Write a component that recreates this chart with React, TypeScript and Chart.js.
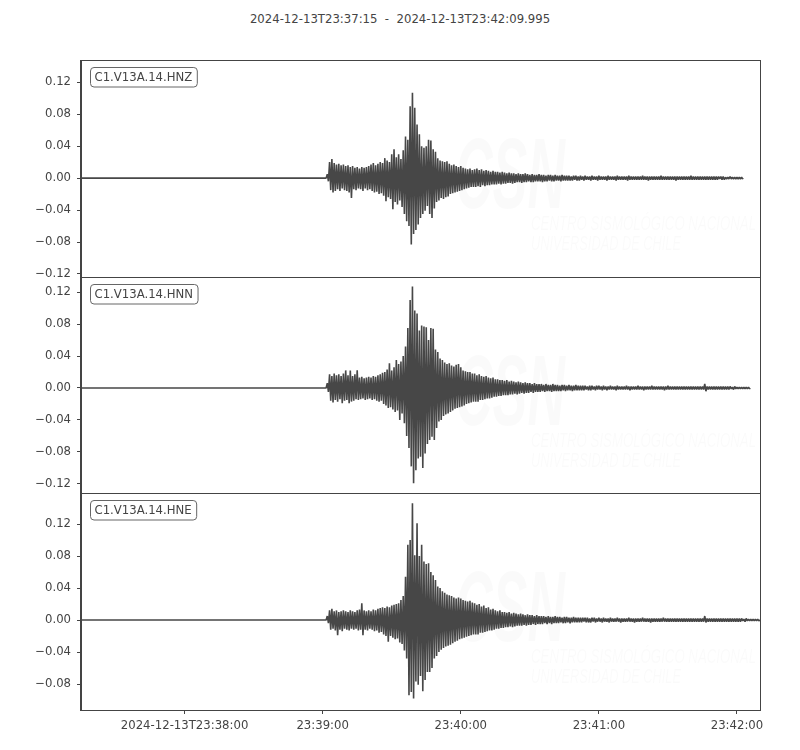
import { useEffect, useRef } from 'react'
import { Chart, registerables } from 'chart.js'

Chart.register(...registerables)

Chart.defaults.font.family = '"DejaVu Sans", sans-serif'
Chart.defaults.font.size = 11.7
Chart.defaults.color = '#444'

const titleText = '2024-12-13T23:37:15  -  2024-12-13T23:42:09.995'
const channels = ['C1.V13A.14.HNZ', 'C1.V13A.14.HNN', 'C1.V13A.14.HNE']

// x axis is seconds after 23:37:15
const xTickSeconds = [45, 105, 165, 225, 285]
const xTickLabels = ['2024-12-13T23:38:00', '23:39:00', '23:40:00', '23:41:00', '23:42:00']

const yTicksZ = [-0.12, -0.08, -0.04, 0, 0.04, 0.08, 0.12]
const yTicksN = [-0.12, -0.08, -0.04, 0, 0.04, 0.08, 0.12]
const yTicksE = [-0.08, -0.04, 0, 0.04, 0.08, 0.12]

// trace timing (s): peak/trough pairs every second from the onset on
const onset = 107
const codaStart = 171
const traceEnds = [287.5, 290.7, 295]

// HNZ, 107 s .. 170 s
const hnzUp = [
  0.005, 0.020, 0.024, 0.019, 0.017, 0.018, 0.016, 0.017, 0.015, 0.016,
  0.014, 0.015, 0.013, 0.014, 0.012, 0.014, 0.013, 0.014, 0.015, 0.017,
  0.019, 0.016, 0.018, 0.020, 0.019, 0.025, 0.022, 0.020, 0.030, 0.036,
  0.026, 0.030, 0.024, 0.035, 0.052, 0.048, 0.090, 0.107, 0.088, 0.067,
  0.055, 0.040, 0.038, 0.040, 0.048, 0.047, 0.036, 0.033, 0.025, 0.022,
  0.021, 0.020, 0.021, 0.018, 0.016, 0.017, 0.015, 0.014, 0.015, 0.013,
  0.012, 0.011, 0.012, 0.010,
]
const hnzDown = [
  -0.004, -0.015, -0.018, -0.016, -0.014, -0.016, -0.013, -0.015, -0.016, -0.018,
  -0.025, -0.014, -0.015, -0.013, -0.014, -0.016, -0.013, -0.015, -0.014, -0.016,
  -0.018, -0.017, -0.020, -0.019, -0.022, -0.029, -0.024, -0.026, -0.039, -0.030,
  -0.033, -0.028, -0.036, -0.045, -0.054, -0.060, -0.083, -0.070, -0.065, -0.058,
  -0.050, -0.045, -0.041, -0.035, -0.045, -0.050, -0.038, -0.030, -0.028, -0.025,
  -0.026, -0.024, -0.023, -0.020, -0.019, -0.018, -0.017, -0.016, -0.015, -0.014,
  -0.013, -0.012, -0.011, -0.011,
]
// HNZ coda, 171 s .. 287 s
const hnzCodaUp = [
  0.011, 0.012, 0.010, 0.011, 0.009, 0.010, 0.009, 0.008, 0.009, 0.008,
  0.008, 0.007, 0.008, 0.007, 0.006, 0.007, 0.006, 0.006, 0.005, 0.006,
  0.005, 0.005, 0.006, 0.005, 0.004, 0.005, 0.004, 0.004, 0.005, 0.004,
  0.004, 0.003, 0.004, 0.004, 0.003, 0.004, 0.003, 0.003, 0.004, 0.003,
  0.003, 0.003, 0.002, 0.003, 0.003, 0.002, 0.003, 0.002, 0.003, 0.002,
  0.002, 0.003, 0.002, 0.002, 0.003, 0.002, 0.002, 0.002, 0.003, 0.002,
  0.002, 0.002, 0.003, 0.002, 0.002, 0.002, 0.002, 0.003, 0.002, 0.002,
  0.002, 0.002, 0.002, 0.003, 0.002, 0.002, 0.002, 0.002, 0.002, 0.002,
  0.002, 0.003, 0.002, 0.002, 0.002, 0.002, 0.002, 0.002, 0.002, 0.002,
  0.002, 0.002, 0.002, 0.002, 0.003, 0.002, 0.002, 0.002, 0.002, 0.002,
  0.002, 0.002, 0.002, 0.002, 0.002, 0.002, 0.002, 0.002, 0.002, 0.001,
  0.001, 0.002, 0.001, 0.001, 0.001, 0.001, 0.001,
]
const hnzCodaDown = [
  -0.011, -0.010, -0.011, -0.009, -0.010, -0.009, -0.009, -0.008, -0.008, -0.008,
  -0.007, -0.008, -0.007, -0.007, -0.006, -0.006, -0.007, -0.006, -0.005, -0.005,
  -0.006, -0.005, -0.005, -0.004, -0.005, -0.005, -0.004, -0.004, -0.004, -0.005,
  -0.004, -0.004, -0.003, -0.004, -0.004, -0.003, -0.003, -0.004, -0.003, -0.003,
  -0.003, -0.003, -0.003, -0.002, -0.003, -0.003, -0.002, -0.003, -0.002, -0.002,
  -0.003, -0.002, -0.002, -0.003, -0.002, -0.002, -0.002, -0.003, -0.002, -0.002,
  -0.002, -0.003, -0.002, -0.002, -0.002, -0.002, -0.003, -0.002, -0.002, -0.002,
  -0.002, -0.002, -0.002, -0.002, -0.002, -0.003, -0.002, -0.002, -0.002, -0.002,
  -0.002, -0.002, -0.002, -0.002, -0.002, -0.002, -0.002, -0.003, -0.002, -0.002,
  -0.002, -0.002, -0.002, -0.002, -0.002, -0.002, -0.002, -0.002, -0.002, -0.002,
  -0.002, -0.002, -0.002, -0.002, -0.002, -0.002, -0.001, -0.002, -0.002, -0.001,
  -0.001, -0.001, -0.001, -0.001, -0.001, -0.001, -0.001,
]

// HNN, 107 s .. 170 s
const hnnUp = [
  0.006, 0.017, 0.015, 0.018, 0.016, 0.017, 0.015, 0.018, 0.022, 0.016,
  0.022, 0.015, 0.017, 0.022, 0.013, 0.014, 0.012, 0.013, 0.014, 0.013,
  0.015, 0.014, 0.016, 0.017, 0.019, 0.020, 0.023, 0.031, 0.022, 0.026,
  0.035, 0.030, 0.033, 0.040, 0.052, 0.075, 0.110, 0.127, 0.097, 0.093,
  0.072, 0.078, 0.077, 0.076, 0.060, 0.075, 0.074, 0.048, 0.045, 0.037,
  0.035, 0.032, 0.030, 0.031, 0.028, 0.027, 0.029, 0.030, 0.026, 0.022,
  0.021, 0.020, 0.020, 0.018,
]
const hnnDown = [
  -0.005, -0.016, -0.018, -0.015, -0.017, -0.014, -0.019, -0.016, -0.015, -0.019,
  -0.017, -0.016, -0.014, -0.015, -0.014, -0.013, -0.015, -0.014, -0.013, -0.015,
  -0.014, -0.016, -0.017, -0.016, -0.020, -0.022, -0.025, -0.024, -0.027, -0.030,
  -0.028, -0.040, -0.032, -0.044, -0.060, -0.075, -0.098, -0.119, -0.103, -0.088,
  -0.086, -0.100, -0.082, -0.070, -0.065, -0.061, -0.065, -0.050, -0.042, -0.040,
  -0.035, -0.033, -0.032, -0.030, -0.028, -0.026, -0.025, -0.024, -0.023, -0.022,
  -0.020, -0.019, -0.018, -0.017,
]
// HNN coda, 171 s .. 290 s
const hnnCodaUp = [
  0.018, 0.016, 0.017, 0.015, 0.014, 0.015, 0.013, 0.012, 0.013, 0.011,
  0.011, 0.010, 0.010, 0.009, 0.010, 0.008, 0.009, 0.008, 0.007, 0.008,
  0.007, 0.006, 0.007, 0.006, 0.006, 0.005, 0.006, 0.005, 0.005, 0.005,
  0.004, 0.005, 0.004, 0.004, 0.005, 0.004, 0.004, 0.003, 0.004, 0.004,
  0.003, 0.004, 0.003, 0.003, 0.004, 0.003, 0.003, 0.003, 0.003, 0.002,
  0.003, 0.003, 0.002, 0.003, 0.003, 0.002, 0.003, 0.002, 0.002, 0.003,
  0.002, 0.002, 0.003, 0.002, 0.002, 0.002, 0.003, 0.002, 0.002, 0.002,
  0.002, 0.003, 0.002, 0.002, 0.002, 0.002, 0.002, 0.003, 0.002, 0.002,
  0.002, 0.002, 0.002, 0.002, 0.003, 0.002, 0.002, 0.002, 0.002, 0.002,
  0.002, 0.002, 0.002, 0.002, 0.002, 0.002, 0.002, 0.002, 0.002, 0.002,
  0.005, 0.002, 0.002, 0.002, 0.002, 0.002, 0.002, 0.002, 0.002, 0.002,
  0.002, 0.002, 0.001, 0.002, 0.001, 0.001, 0.001, 0.001, 0.001, 0.001,
]
const hnnCodaDown = [
  -0.017, -0.017, -0.015, -0.015, -0.014, -0.013, -0.013, -0.012, -0.011, -0.011,
  -0.010, -0.010, -0.009, -0.009, -0.009, -0.008, -0.008, -0.007, -0.008, -0.007,
  -0.006, -0.007, -0.006, -0.006, -0.005, -0.006, -0.005, -0.005, -0.005, -0.004,
  -0.005, -0.004, -0.004, -0.005, -0.004, -0.004, -0.004, -0.004, -0.003, -0.004,
  -0.003, -0.003, -0.004, -0.003, -0.003, -0.003, -0.003, -0.003, -0.002, -0.003,
  -0.003, -0.002, -0.003, -0.002, -0.002, -0.003, -0.002, -0.003, -0.002, -0.002,
  -0.002, -0.003, -0.002, -0.002, -0.002, -0.002, -0.002, -0.003, -0.002, -0.002,
  -0.002, -0.002, -0.002, -0.003, -0.002, -0.002, -0.002, -0.002, -0.002, -0.002,
  -0.002, -0.002, -0.003, -0.002, -0.002, -0.002, -0.002, -0.002, -0.002, -0.002,
  -0.002, -0.002, -0.002, -0.002, -0.002, -0.002, -0.002, -0.002, -0.002, -0.002,
  -0.004, -0.002, -0.002, -0.002, -0.002, -0.002, -0.002, -0.002, -0.002, -0.002,
  -0.002, -0.001, -0.002, -0.001, -0.001, -0.001, -0.001, -0.001, -0.001, -0.001,
]

// HNE, 107 s .. 170 s
const hneUp = [
  0.005, 0.012, 0.014, 0.011, 0.012, 0.010, 0.011, 0.012, 0.011, 0.010,
  0.012, 0.011, 0.010, 0.012, 0.013, 0.021, 0.012, 0.011, 0.012, 0.011,
  0.013, 0.012, 0.014, 0.015, 0.016, 0.015, 0.017, 0.016, 0.018, 0.019,
  0.020, 0.021, 0.025, 0.030, 0.054, 0.094, 0.100, 0.146, 0.081, 0.121,
  0.080, 0.094, 0.073, 0.070, 0.071, 0.060, 0.056, 0.050, 0.042, 0.040,
  0.036, 0.034, 0.032, 0.031, 0.030, 0.028, 0.027, 0.028, 0.027, 0.025,
  0.024, 0.023, 0.024, 0.022,
]
const hneDown = [
  -0.004, -0.012, -0.011, -0.013, -0.019, -0.012, -0.014, -0.011, -0.012, -0.013,
  -0.011, -0.012, -0.011, -0.013, -0.012, -0.019, -0.012, -0.013, -0.011, -0.012,
  -0.014, -0.013, -0.016, -0.015, -0.018, -0.020, -0.027, -0.020, -0.022, -0.024,
  -0.023, -0.028, -0.030, -0.038, -0.048, -0.094, -0.090, -0.098, -0.077, -0.081,
  -0.070, -0.089, -0.075, -0.065, -0.065, -0.060, -0.048, -0.045, -0.040, -0.037,
  -0.035, -0.033, -0.032, -0.031, -0.029, -0.027, -0.026, -0.024, -0.023, -0.022,
  -0.021, -0.020, -0.019, -0.018,
]
// HNE coda, 171 s .. 294 s
const hneCodaUp = [
  0.021, 0.019, 0.020, 0.017, 0.018, 0.015, 0.016, 0.013, 0.014, 0.012,
  0.011, 0.012, 0.010, 0.010, 0.009, 0.010, 0.008, 0.009, 0.008, 0.007,
  0.008, 0.007, 0.006, 0.007, 0.006, 0.006, 0.005, 0.006, 0.005, 0.005,
  0.005, 0.004, 0.005, 0.004, 0.004, 0.005, 0.004, 0.004, 0.003, 0.004,
  0.004, 0.003, 0.003, 0.004, 0.003, 0.003, 0.003, 0.003, 0.003, 0.003,
  0.002, 0.003, 0.003, 0.002, 0.003, 0.002, 0.003, 0.002, 0.002, 0.003,
  0.002, 0.002, 0.003, 0.002, 0.002, 0.002, 0.002, 0.003, 0.002, 0.002,
  0.002, 0.002, 0.002, 0.003, 0.002, 0.002, 0.002, 0.002, 0.002, 0.002,
  0.002, 0.002, 0.003, 0.002, 0.002, 0.002, 0.002, 0.002, 0.002, 0.002,
  0.002, 0.002, 0.002, 0.002, 0.002, 0.002, 0.002, 0.002, 0.002, 0.002,
  0.005, 0.002, 0.002, 0.002, 0.002, 0.002, 0.002, 0.002, 0.002, 0.002,
  0.002, 0.002, 0.002, 0.002, 0.002, 0.002, 0.002, 0.001, 0.002, 0.001,
  0.001, 0.001, 0.001, 0.001,
]
const hneCodaDown = [
  -0.018, -0.018, -0.016, -0.016, -0.015, -0.014, -0.013, -0.013, -0.012, -0.011,
  -0.011, -0.010, -0.010, -0.009, -0.009, -0.008, -0.009, -0.008, -0.007, -0.007,
  -0.007, -0.006, -0.007, -0.006, -0.006, -0.005, -0.006, -0.005, -0.005, -0.005,
  -0.004, -0.005, -0.004, -0.005, -0.004, -0.004, -0.004, -0.003, -0.004, -0.004,
  -0.003, -0.004, -0.003, -0.003, -0.003, -0.003, -0.003, -0.002, -0.003, -0.003,
  -0.003, -0.002, -0.003, -0.002, -0.002, -0.003, -0.002, -0.002, -0.003, -0.002,
  -0.002, -0.002, -0.002, -0.003, -0.002, -0.002, -0.002, -0.002, -0.002, -0.003,
  -0.002, -0.002, -0.002, -0.002, -0.002, -0.002, -0.003, -0.002, -0.002, -0.002,
  -0.002, -0.002, -0.002, -0.002, -0.002, -0.002, -0.002, -0.002, -0.002, -0.002,
  -0.002, -0.002, -0.002, -0.002, -0.002, -0.002, -0.002, -0.002, -0.002, -0.002,
  -0.003, -0.002, -0.002, -0.002, -0.002, -0.002, -0.002, -0.002, -0.002, -0.002,
  -0.002, -0.002, -0.002, -0.002, -0.002, -0.002, -0.001, -0.002, -0.001, -0.001,
  -0.001, -0.001, -0.001, -0.001,
]

const panels = [
  { up: hnzUp, down: hnzDown, codaUp: hnzCodaUp, codaDown: hnzCodaDown, ticks: yTicksZ, min: -0.1238, max: 0.1479 },
  { up: hnnUp, down: hnnDown, codaUp: hnnCodaUp, codaDown: hnnCodaDown, ticks: yTicksN, min: -0.1313, max: 0.1388 },
  { up: hneUp, down: hneDown, codaUp: hneCodaUp, codaDown: hneCodaDown, ticks: yTicksE, min: -0.1125, max: 0.1588 },
]

// canvas placement: [top, height, padTop, padBottom]
const boxes = [
  [40, 250, 20, 13],
  [262, 246, 15, 15],
  [478, 272, 15, 10],
]

function buildTrace(i: number) {
  const p = panels[i]
  const pts: { x: number; y: number }[] = [{ x: 0, y: 0 }, { x: onset - 0.5, y: 0 }]
  p.up.forEach((u, k) => {
    const t = onset + k
    pts.push({ x: t, y: u }, { x: t + 0.5, y: p.down[k] })
  })
  p.codaUp.forEach((u, k) => {
    const t = codaStart + k
    pts.push({ x: t, y: u }, { x: t + 0.5, y: p.codaDown[k] })
  })
  pts.push({ x: traceEnds[i], y: 0 })
  return pts
}

const fmtY = (v: number) => {
  const s = Math.abs(v) < 1e-9 ? '0.00' : v.toFixed(2)
  return s.replace('-', '\u2212')
}

const panelDecor = (label: string) => ({
  id: 'panelDecor',
  beforeDatasetsDraw(chart: Chart) {
    const { ctx, chartArea } = chart
    const top = chartArea.top
    ctx.save()
    ctx.fillStyle = 'rgba(0,0,0,0.018)'
    ctx.textBaseline = 'alphabetic'
    ctx.font = 'italic bold 100px "Liberation Sans Narrow", "Liberation Sans", sans-serif'
    ctx.fillText('CSN', 455, top + 148, 110)
    ctx.font = 'italic 20px "Liberation Sans Narrow", "Liberation Sans", sans-serif'
    ctx.fillText('CENTRO SISMOLÓGICO NACIONAL', 531, top + 170, 225)
    ctx.fillText('UNIVERSIDAD DE CHILE', 531, top + 190, 150)
    ctx.restore()
  },
  afterDatasetsDraw(chart: Chart) {
    const { ctx, chartArea } = chart
    ctx.save()
    ctx.font = '11.7px "DejaVu Sans", sans-serif'
    const w = ctx.measureText(label).width + 9
    const bx = chartArea.left + 9.5
    const by = chartArea.top + 7.5
    ctx.beginPath()
    ctx.roundRect(bx, by, w, 19.5, 3.5)
    ctx.fillStyle = '#fff'
    ctx.fill()
    ctx.strokeStyle = '#666'
    ctx.lineWidth = 1
    ctx.stroke()
    ctx.fillStyle = '#444'
    ctx.textBaseline = 'middle'
    ctx.fillText(label, bx + 4, by + 10)
    ctx.restore()
  },
  afterDraw(chart: Chart) {
    const { ctx, chartArea } = chart
    const l = Math.round(chartArea.left) - 0.5
    const r = Math.round(chartArea.right) + 0.5
    const t = Math.round(chartArea.top) + 0.5
    const b = Math.round(chartArea.bottom) + 0.5
    ctx.save()
    ctx.strokeStyle = '#444'
    ctx.lineWidth = 1
    ctx.strokeRect(l, t, r - l, b - t)
    ctx.restore()
  },
})

export default function App() {
  const refs = [useRef<HTMLCanvasElement>(null), useRef<HTMLCanvasElement>(null), useRef<HTMLCanvasElement>(null)]

  useEffect(() => {
    const charts: Chart[] = []
    refs.forEach((ref, i) => {
      if (!ref.current) return
      const p = panels[i]
      const showX = i === 2
      const chart = new Chart(ref.current, {
        type: 'line',
        data: {
          datasets: [
            {
              data: buildTrace(i),
              borderColor: '#474747',
              borderWidth: 1.6,
              borderJoinStyle: 'bevel',
              pointRadius: 0,
              tension: 0,
              fill: false,
            },
          ],
        },
        options: {
          animation: false,
          responsive: false,
          events: [],
          layout: { padding: { left: 0, right: 40, top: boxes[i][2], bottom: boxes[i][3] } },
          plugins: {
            legend: { display: false },
            tooltip: { enabled: false },
          },
          scales: {
            x: {
              type: 'linear',
              min: 0,
              max: 295,
              display: showX,
              afterBuildTicks: (s: any) => {
                s.ticks = xTickSeconds.map(v => ({ value: v }))
              },
              afterFit: (s: any) => {
                s.height = showX ? 30 : 0
              },
              ticks: {
                autoSkip: false,
                maxRotation: 0,
                padding: 5,
                color: '#444',
                callback: (v: any) => xTickLabels[xTickSeconds.indexOf(Number(v))],
              },
              grid: { drawOnChartArea: false, tickLength: 4, color: '#444' },
              border: { color: '#444' },
            },
            y: {
              type: 'linear',
              min: p.min,
              max: p.max,
              afterBuildTicks: (s: any) => {
                s.ticks = p.ticks.map(v => ({ value: v }))
              },
              afterFit: (s: any) => {
                s.width = 81
              },
              ticks: {
                padding: 6,
                color: '#444',
                callback: (v: any) => fmtY(Number(v)),
              },
              grid: { drawOnChartArea: false, tickLength: 4, color: '#444' },
              border: { color: '#444' },
            },
          },
        },
        plugins: [panelDecor(channels[i])],
      })
      charts.push(chart)
    })
    return () => {
      charts.forEach(c => c.destroy())
    }
  }, [])

  return (
    <div style={{ position: 'absolute', left: 0, top: 0, width: 800, height: 750, background: '#fff' }}>
      <div
        style={{
          position: 'absolute',
          left: 0,
          top: 12,
          width: 800,
          textAlign: 'center',
          whiteSpace: 'pre',
          font: '11.7px "DejaVu Sans", sans-serif',
          color: '#444',
        }}
      >
        {titleText}
      </div>
      {boxes.map((b, i) => (
        <canvas
          key={i}
          ref={refs[i]}
          width={800}
          height={b[1]}
          style={{ position: 'absolute', left: 0, top: b[0], width: 800, height: b[1] }}
        />
      ))}
    </div>
  )
}
